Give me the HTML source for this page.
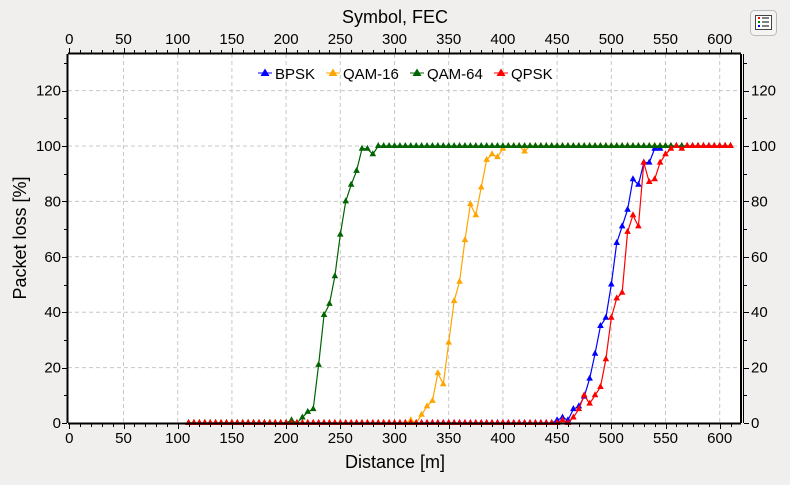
<!DOCTYPE html>
<html><head><meta charset="utf-8">
<style>
body{margin:0;background:#f0f0f0;width:790px;height:480px;overflow:hidden;font-family:"Liberation Sans",sans-serif;}
svg text{font-family:"Liberation Sans",sans-serif;}
</style></head><body>
<svg id="chart" width="790" height="480">
<rect x="0" y="0" width="790" height="480" fill="#f0efee"/>
<g id="grid"></g>
<g id="series"></g>
<g id="axes"></g>
<g font-size="15">
 <g><line x1="258" y1="73" x2="272" y2="73" stroke="#0000ff"/><polygon points="265,68.5 269.5,76 260.5,76" fill="#0000ff"/><text x="275" y="79">BPSK</text></g>
 <g><line x1="326" y1="73" x2="340" y2="73" stroke="#ffa500"/><polygon points="333,68.5 337.5,76 328.5,76" fill="#ffa500"/><text x="343" y="79">QAM-16</text></g>
 <g><line x1="410" y1="73" x2="424" y2="73" stroke="#006400"/><polygon points="417,68.5 421.5,76 412.5,76" fill="#006400"/><text x="427" y="79">QAM-64</text></g>
 <g><line x1="494" y1="73" x2="508" y2="73" stroke="#ff0000"/><polygon points="501,68.5 505.5,76 496.5,76" fill="#ff0000"/><text x="511" y="79">QPSK</text></g>
</g>
<text x="395" y="23" text-anchor="middle" font-size="18">Symbol, FEC</text>
<text x="395" y="468" text-anchor="middle" font-size="18">Distance [m]</text>
<text transform="translate(26,238) rotate(-90)" text-anchor="middle" font-size="18">Packet loss [%]</text>
<g>
 <rect x="750.5" y="10.5" width="26" height="25" rx="4" fill="#f4f4f4" stroke="#bbb"/>
 <rect x="755.5" y="15.5" width="16" height="14" fill="#fff" stroke="#444"/>
 <rect x="758" y="17" width="2" height="2" fill="red"/><rect x="758" y="21" width="2" height="2" fill="green"/><rect x="758" y="25" width="2" height="2" fill="blue"/>
 <line x1="762" y1="18" x2="769" y2="18" stroke="#000"/><line x1="762" y1="22" x2="769" y2="22" stroke="#000"/><line x1="762" y1="26" x2="769" y2="26" stroke="#000"/>
</g>
</svg>
<script>
const xTicks=[0,50,100,150,200,250,300,350,400,450,500,550,600];
const yTicks=[0,20,40,60,80,100,120];
const seriesNames=["BPSK","QAM-16","QAM-64","QPSK"];
const distances=[];for(let d=110;d<=610;d+=5)distances.push(d);
const qam64Pts=[[205,1],[210,0],[215,2],[220,4],[225,5],[230,21],[235,39],[240,43],[245,53],[250,68],[255,80],[260,86],[265,91],[270,99],[275,99],[280,97],[285,100]];
const qam16Pts=[[315,1],[320,0],[325,3],[330,6],[335,8],[340,18],[345,14],[350,29],[355,44],[360,51],[365,66],[370,79],[375,75],[380,85],[385,95],[390,97],[395,96],[400,99],[405,100],[415,100],[420,98],[425,100]];
const bpskPts=[[450,1],[455,2],[460,1],[465,5],[470,6],[475,9.5],[480,16],[485,25],[490,35],[495,38],[500,50],[505,65],[510,71],[515,77],[520,88],[525,86],[530,94],[535,94],[540,99],[545,99],[550,100]];
const qpskPts=[[455,1],[460,0],[465,2],[470,5],[475,10],[480,7],[485,10],[490,13],[495,23],[500,38],[505,45],[510,47],[515,69],[520,75],[525,71],[530,94],[535,87],[540,88],[545,94],[550,97],[555,99],[560,100],[565,99],[570,100]];
const colors={"QAM-64":"#006400","QAM-16":"#ffa500","BPSK":"#0000ff","QPSK":"#ff0000"};
const X0=69.3,PX=1.084,Y0=423,PY=2.77;
function xs(v){return X0+v*PX;}
function ys(v){return Y0-v*PY;}
function build(pts){
  return distances.map(d=>{let v=0,found=false;
    for(const p of pts){if(p[0]===d){v=p[1];found=true;}}
    if(!found){let last=null;for(const p of pts){if(p[0]<d)last=p;} v=last?last[1]:0;}
    return [d,v];});
}
const NS="http://www.w3.org/2000/svg";
function mk(tag,attrs,parent){const e=document.createElementNS(NS,tag);for(const k in attrs)e.setAttribute(k,attrs[k]);parent.appendChild(e);return e;}
const grid=document.getElementById('grid'),axes=document.getElementById('axes'),ser=document.getElementById('series');
const L=68,R=741,T=54,B=423;
const plot=mk('rect',{x:L,y:T,width:R-L,height:B-T,fill:'#fff'},grid);


xTicks.forEach(t=>{if(t>0)mk('line',{x1:xs(t),y1:T,x2:xs(t),y2:B,stroke:'#c8c8c8','stroke-dasharray':'4,3'},grid);});
yTicks.forEach(t=>{if(t>0)mk('line',{x1:L,y1:ys(t),x2:R,y2:ys(t),stroke:'#c8c8c8','stroke-dasharray':'4,3'},grid);});
mk('line',{x1:L,y1:T-0.5,x2:R,y2:T-0.5,stroke:'#000','stroke-width':2},axes);
mk('line',{x1:L-0.5,y1:T,x2:L-0.5,y2:B,stroke:'#000','stroke-width':2},axes);
mk('line',{x1:L,y1:B+0.5,x2:R,y2:B+0.5,stroke:'#000','stroke-width':2},axes);
mk('line',{x1:R,y1:T,x2:R,y2:B,stroke:'#000','stroke-width':2},axes);
mk('line',{x1:743.5,y1:T,x2:743.5,y2:B,stroke:'#000','stroke-width':1},axes);
for(let v=0;v<=610;v+=10){const major=v%50===0,x=Math.round(xs(v))+0.5,len=major?5:3;
  mk('line',{x1:x,y1:B+1,x2:x,y2:B+1+len,stroke:'#000'},axes);
  mk('line',{x1:x,y1:T-1,x2:x,y2:T-1-len,stroke:'#000'},axes);}
for(let v=0;v<=130;v+=10){const major=v%20===0,y=Math.round(ys(v))+0.5,len=major?5:3;
  mk('line',{x1:L-1,y1:y,x2:L-1-len,y2:y,stroke:'#000'},axes);
  mk('line',{x1:744,y1:y,x2:744+len,y2:y,stroke:'#000'},axes);}
xTicks.forEach(t=>{
  const b=mk('text',{x:xs(t),y:443,'text-anchor':'middle','font-size':15},axes);b.textContent=t;
  
  
  const tp=mk('text',{x:xs(t),y:44,'text-anchor':'middle','font-size':15},axes);tp.textContent=t;
  
  });
yTicks.forEach(t=>{
  const a=mk('text',{x:61,y:ys(t)+5,'text-anchor':'end','font-size':15},axes);a.textContent=t;
  
  
  const b=mk('text',{x:751,y:ys(t)+5,'font-size':15},axes);b.textContent=t;
  
  });
const sets={"QAM-64":qam64Pts,"QAM-16":qam16Pts,"BPSK":bpskPts,"QPSK":qpskPts};
seriesNames.forEach(n=>{
  const data=build(sets[n]);const c=colors[n];
  const g=mk('g',{},ser);
  
  
  mk('polyline',{points:data.map(p=>xs(p[0])+','+ys(p[1])).join(' '),fill:'none',stroke:c,'stroke-width':1.2},g);
  data.forEach(p=>{const x=xs(p[0]),y=ys(p[1]);
    const m=mk('polygon',{points:`${x},${y-4} ${x+3.3},${y+2} ${x-3.3},${y+2}`,fill:c},g);
    
    });
});
</script>
</body></html>
